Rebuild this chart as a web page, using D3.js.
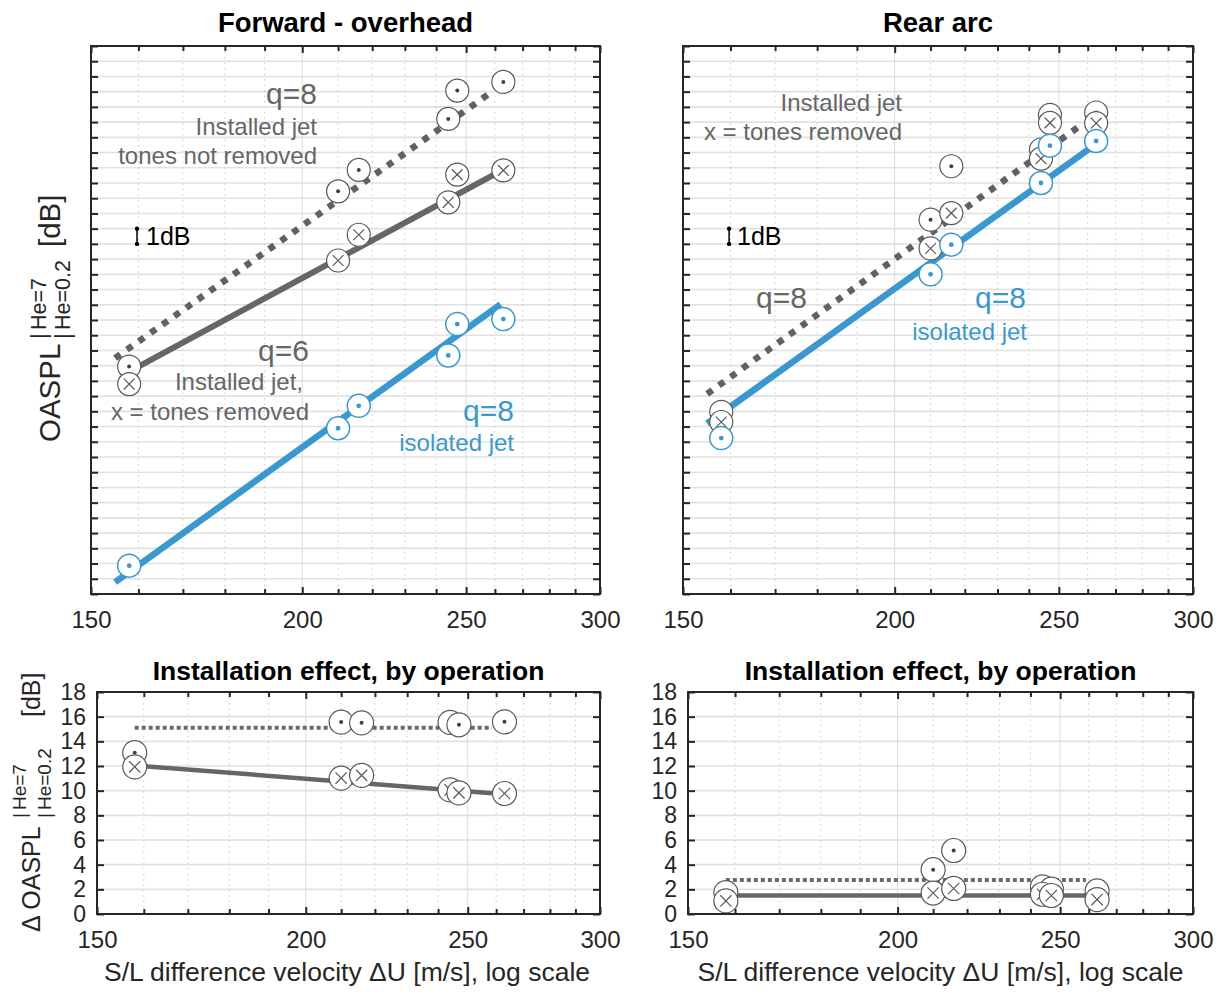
<!DOCTYPE html>
<html>
<head>
<meta charset="utf-8">
<script src="https://cdn.jsdelivr.net/npm/d3@7"></script>
<style>
  body { margin: 0; background: #fff; }
  svg { display: block; }
</style>
</head>
<body>
<svg id="fig" width="1225" height="992"></svg>
<script>
// ---- operating points: shear-layer difference velocity dU [m/s] ----
const velocity = [158, 210, 216, 244, 247, 263];

// ---- OASPL integrated over He = 0.2 .. 7 [dB, relative level] ----
// forward - overhead
const fwdIsolated         = [1.86, 10.89, 12.36, 15.67, 17.73, 18.06];
const fwdInstalledTones   = [14.94, 26.45, 27.86, 31.21, 33.07, 33.64];
const fwdInstalledNoTones = [13.79, 21.91, 23.60, 25.73, 27.55, 27.83];
// rear arc
const rearIsolated         = [10.24, 21.00, 22.95, 27.00, 29.45, 29.76];
const rearInstalledTones   = [11.97, 24.59, 28.10, 29.20, 31.47, 31.63];
const rearInstalledNoTones = [11.30, 22.70, 25.02, 28.60, 30.95, 30.93];

// ---- velocity-power fits, end points [dU, dB] ----
const fwdIsolatedFit   = [[155, 0.78], [262, 19.02]];   // q = 8
const fwdTonesFit      = [[155, 15.50], [259, 33.00]];  // q = 8
const fwdNoTonesFit    = [[157, 14.45], [259.7, 27.55]];// q = 6
const rearIsolatedFit  = [[155, 11.20], [262, 29.44]];  // q = 8
const rearTonesFit     = [[155, 13.15], [258, 30.85]];  // q = 8

// ---- installation effect trend lines [dU, dB] ----
const fwdDeltaTonesTrend   = [[158, 15.1], [258.5, 15.1]];
const fwdDeltaNoTonesTrend = [[158, 12.05], [258.5, 9.8]];
const rearDeltaTonesTrend   = [[158, 2.75], [259, 2.75]];
const rearDeltaNoTonesTrend = [[158, 1.5], [259, 1.5]];

// ---- ticks ----
const xMajorTicks = [150, 200, 250, 300];
const xMinorTicks = [160, 170, 180, 190, 210, 220, 230, 240, 260, 270, 280, 290];
const levelTicks = [0,1,2,3,4,5,6,7,8,9,10,11,12,13,14,15,16,17,18,19,20,21,22,23,24,25,26,27,28,29,30,31,32,33,34,35,36];
const deltaTicks = [0, 2, 4, 6, 8, 10, 12, 14, 16, 18];

// installation effect = installed - isolated, per operating point
const fwdDeltaTones   = fwdInstalledTones.map((v, i) => v - fwdIsolated[i]);
const fwdDeltaNoTones = fwdInstalledNoTones.map((v, i) => v - fwdIsolated[i]);
const rearDeltaTones   = rearInstalledTones.map((v, i) => v - rearIsolated[i]);
const rearDeltaNoTones = rearInstalledNoTones.map((v, i) => v - rearIsolated[i]);

// ---- styling ----
const FONT = '"Liberation Sans", Arial, Helvetica, sans-serif';
const DARK = '#262626';
const GRAY = '#666666';
const MARK = '#595959';
const BLUE = '#3a98d0';

const svg = d3.select('#fig').style('font-family', FONT);

function text(layer, x, y, str, o = {}) {
  return layer.append('text')
    .attr('x', x).attr('y', y)
    .attr('text-anchor', o.anchor || 'start')
    .attr('font-size', o.size || 24)
    .attr('font-weight', o.bold ? 'bold' : 'normal')
    .attr('fill', o.color || DARK)
    .text(str);
}

function panel(box, yDomain, yTicks, yLabelled) {
  const x = d3.scaleLog().domain([150, 300]).range([box.x0, box.x1]);
  const y = d3.scaleLinear().domain(yDomain).range([box.y1, box.y0]);
  const g = svg.append('g');
  const grid = g.append('g');
  grid.selectAll('line.h').data(yTicks).join('line')
    .attr('x1', box.x0).attr('x2', box.x1)
    .attr('y1', d => y(d)).attr('y2', d => y(d))
    .attr('stroke', '#e1e1e1').attr('stroke-width', 1.6);
  grid.selectAll('line.vm').data(xMinorTicks).join('line')
    .attr('x1', d => x(d)).attr('x2', d => x(d))
    .attr('y1', box.y0).attr('y2', box.y1)
    .attr('stroke', '#cccccc').attr('stroke-width', 1).attr('stroke-dasharray', '1.5,4');
  grid.selectAll('line.vM').data(xMajorTicks).join('line')
    .attr('x1', d => x(d)).attr('x2', d => x(d))
    .attr('y1', box.y0).attr('y2', box.y1)
    .attr('stroke', '#dcdcdc').attr('stroke-width', 1);
  const lines = g.append('g');
  const marks = g.append('g');
  const notes = g.append('g');
  const axes = g.append('g');

  const styleAxis = (sel, size) => {
    sel.select('.domain').remove();
    sel.selectAll('.tick line').attr('stroke', DARK).attr('stroke-width', 2);
    sel.selectAll('.tick text').attr('fill', DARK).attr('font-size', size || 24)
      .attr('font-family', FONT);
    sel.attr('font-family', null).attr('font-size', null);
  };
  axes.append('g').attr('transform', `translate(0,${box.y1})`)
    .call(d3.axisBottom(x).tickValues(xMajorTicks).tickFormat(d3.format('d'))
      .tickSizeInner(-7).tickSizeOuter(0).tickPadding(17)).call(styleAxis, 24);
  axes.append('g').attr('transform', `translate(0,${box.y1})`)
    .call(d3.axisBottom(x).tickValues(xMinorTicks).tickFormat('')
      .tickSizeInner(-5).tickSizeOuter(0)).call(styleAxis);
  axes.append('g').attr('transform', `translate(0,${box.y0})`)
    .call(d3.axisTop(x).tickValues(xMajorTicks).tickFormat('')
      .tickSizeInner(-7).tickSizeOuter(0)).call(styleAxis);
  axes.append('g').attr('transform', `translate(0,${box.y0})`)
    .call(d3.axisTop(x).tickValues(xMinorTicks).tickFormat('')
      .tickSizeInner(-5).tickSizeOuter(0)).call(styleAxis);
  axes.append('g').attr('transform', `translate(${box.x0},0)`)
    .call(d3.axisLeft(y).tickValues(yTicks).tickFormat(yLabelled ? d3.format('d') : '')
      .tickSizeInner(-7).tickSizeOuter(0).tickPadding(11)).call(styleAxis, 23);
  axes.append('g').attr('transform', `translate(${box.x1},0)`)
    .call(d3.axisRight(y).tickValues(yTicks).tickFormat('')
      .tickSizeInner(-7).tickSizeOuter(0)).call(styleAxis);
  axes.append('rect')
    .attr('x', box.x0).attr('y', box.y0)
    .attr('width', box.x1 - box.x0).attr('height', box.y1 - box.y0)
    .attr('fill', 'none').attr('stroke', DARK).attr('stroke-width', 2);
  return { x, y, lines, marks, notes, box };
}

function fitLine(p, pts, o) {
  p.lines.append('path')
    .attr('d', d3.line().x(d => p.x(d[0])).y(d => p.y(d[1]))(pts))
    .attr('fill', 'none').attr('stroke', o.color).attr('stroke-width', o.width)
    .attr('stroke-dasharray', o.dash || null).attr('stroke-linecap', 'butt');
}

function markers(p, xs, ys, kind, r) {
  const color = kind === 'blue' ? BLUE : MARK;
  const g = p.marks.append('g').selectAll('g').data(d3.zip(xs, ys)).join('g')
    .attr('transform', d => `translate(${p.x(d[0])},${p.y(d[1])})`);
  g.append('circle').attr('r', r).attr('fill', '#fff')
    .attr('stroke', color).attr('stroke-width', kind === 'blue' ? 1.5 : 1.2);
  if (kind === 'cross') {
    const c = r * 0.47;
    g.append('path').attr('d', `M${-c},${-c}L${c},${c}M${-c},${c}L${c},${-c}`)
      .attr('stroke', color).attr('stroke-width', 1.2);
  } else {
    g.append('circle').attr('r', kind === 'blue' ? 2.4 : 2).attr('fill', kind === 'blue' ? BLUE : '#404040');
  }
}

function scaleBar(p, xv, lo, hi, labelX) {
  const x = p.x(xv);
  p.notes.append('line').attr('x1', x).attr('x2', x).attr('y1', p.y(lo)).attr('y2', p.y(hi))
    .attr('stroke', '#000').attr('stroke-width', 1.5);
  p.notes.selectAll(null).data([lo, hi]).join('circle')
    .attr('cx', x).attr('cy', d => p.y(d)).attr('r', 2.2).attr('fill', '#000');
  text(p.notes, labelX, p.y(lo) + 1.5, '1dB', { size: 25, color: '#000' });
}

// rotated level label:  [Δ] OASPL |He=7 over |He=0.2  [dB]
function levelLabel(x, y, o) {
  const g = svg.append('g').attr('transform', `translate(${x},${y}) rotate(-90)`);
  const t = (tx, ty, s, fs) => g.append('text').attr('x', tx).attr('y', ty)
    .attr('font-size', fs).attr('fill', DARK).text(s);
  t(0, 0, o.main, o.size);
  t(o.barX, o.supY, '|', o.small);
  t(o.barX, o.subY, '|', o.small);
  t(o.barX + o.small * 0.42, o.supY, 'He=7', o.small);
  t(o.barX + o.small * 0.42, o.subY, 'He=0.2', o.small);
  t(o.unitX, 0, '[dB]', o.size);
}

// ================= panels =================
const fwd  = panel({ x0: 91,  x1: 600,  y0: 46,  y1: 594 }, [0, 36], levelTicks, false);
const rear = panel({ x0: 683, x1: 1193, y0: 46,  y1: 594 }, [0, 36], levelTicks, false);
const fwdD = panel({ x0: 97,  x1: 600,  y0: 692, y1: 914 }, [0, 18], deltaTicks, true);
const rearD= panel({ x0: 688, x1: 1193, y0: 692, y1: 914 }, [0, 18], deltaTicks, true);

// ---- forward - overhead ----
fitLine(fwd, fwdTonesFit,   { color: '#616161', width: 6.5, dash: '6.5,8' });
fitLine(fwd, fwdNoTonesFit, { color: '#666666', width: 6 });
fitLine(fwd, fwdIsolatedFit,{ color: BLUE, width: 6.5 });
markers(fwd, velocity, fwdInstalledTones, 'dot', 11.5);
markers(fwd, velocity, fwdInstalledNoTones, 'cross', 11.5);
markers(fwd, velocity, fwdIsolated, 'blue', 11.5);
text(fwd.notes, 317, 104, 'q=8', { size: 30, color: GRAY, anchor: 'end' });
text(fwd.notes, 317, 135, 'Installed jet', { size: 24, color: GRAY, anchor: 'end' });
text(fwd.notes, 317, 164, 'tones not removed', { size: 24, color: GRAY, anchor: 'end' });
text(fwd.notes, 309, 361, 'q=6', { size: 30, color: GRAY, anchor: 'end' });
text(fwd.notes, 303, 390, 'Installed jet,', { size: 24, color: GRAY, anchor: 'end' });
text(fwd.notes, 309, 420, 'x = tones removed', { size: 24, color: GRAY, anchor: 'end' });
text(fwd.notes, 514, 421, 'q=8', { size: 30, color: BLUE, anchor: 'end' });
text(fwd.notes, 514, 451, 'isolated jet', { size: 24, color: BLUE, anchor: 'end' });
scaleBar(fwd, 159.7, 23, 24, 146);

// ---- rear arc ----
fitLine(rear, rearTonesFit,   { color: '#616161', width: 6.5, dash: '6.5,8' });
fitLine(rear, rearIsolatedFit,{ color: BLUE, width: 6.5 });
markers(rear, velocity, rearInstalledTones, 'dot', 11.5);
markers(rear, velocity, rearInstalledNoTones, 'cross', 11.5);
markers(rear, velocity, rearIsolated, 'blue', 11.5);
text(rear.notes, 902, 111, 'Installed jet', { size: 24, color: GRAY, anchor: 'end' });
text(rear.notes, 902, 140, 'x = tones removed', { size: 24, color: GRAY, anchor: 'end' });
text(rear.notes, 807, 308, 'q=8', { size: 30, color: GRAY, anchor: 'end' });
text(rear.notes, 1026, 308, 'q=8', { size: 30, color: BLUE, anchor: 'end' });
text(rear.notes, 1027, 340, 'isolated jet', { size: 24, color: BLUE, anchor: 'end' });
scaleBar(rear, 159.7, 23, 24, 737);

// ---- installation effect, forward ----
fitLine(fwdD, fwdDeltaTonesTrend,   { color: '#6a6a6a', width: 4, dash: '4,3' });
fitLine(fwdD, fwdDeltaNoTonesTrend, { color: '#666666', width: 4.5 });
markers(fwdD, velocity, fwdDeltaTones, 'dot', 12);
markers(fwdD, velocity, fwdDeltaNoTones, 'cross', 12);

// ---- installation effect, rear ----
fitLine(rearD, rearDeltaTonesTrend,   { color: '#6a6a6a', width: 4, dash: '4,3' });
fitLine(rearD, rearDeltaNoTonesTrend, { color: '#666666', width: 4.5 });
markers(rearD, velocity, rearDeltaTones, 'dot', 12);
markers(rearD, velocity, rearDeltaNoTones, 'cross', 12);

// ---- titles ----
text(svg, 345.5, 32, 'Forward - overhead', { size: 27.5, bold: true, anchor: 'middle', color: '#000' });
text(svg, 938, 32, 'Rear arc', { size: 27.5, bold: true, anchor: 'middle', color: '#000' });
text(svg, 348.5, 680, 'Installation effect, by operation', { size: 26.5, bold: true, anchor: 'middle', color: '#000' });
text(svg, 940.5, 680, 'Installation effect, by operation', { size: 26.5, bold: true, anchor: 'middle', color: '#000' });

// ---- axis labels ----
text(svg, 347, 981, 'S/L difference velocity \u0394U [m/s], log scale', { size: 26.5, anchor: 'middle' });
text(svg, 940.5, 981, 'S/L difference velocity \u0394U [m/s], log scale', { size: 26.5, anchor: 'middle' });
levelLabel(60, 442, { main: 'OASPL', size: 29.5, small: 21.5, barX: 103, supY: -14.5, subY: 9.5, unitX: 195 });
levelLabel(40, 932, { main: '\u0394 OASPL', size: 25, small: 19, barX: 114, supY: -14, subY: 11, unitX: 215 });
</script>
</body>
</html>
